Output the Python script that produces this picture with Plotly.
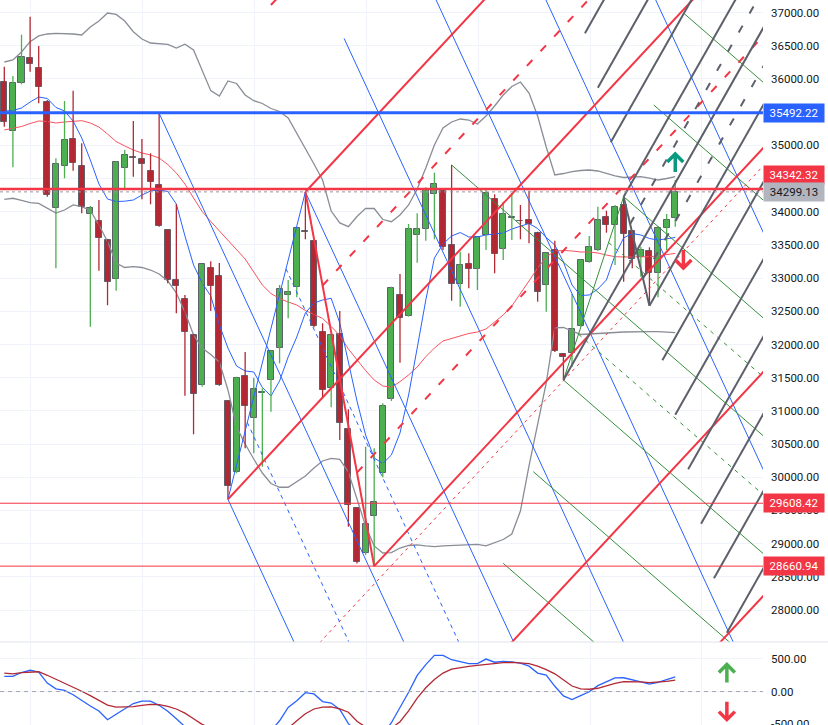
import plotly.graph_objects as go

# ---------------- data (weekly candles) ----------------
opens = [35950, 35212, 35935, 36316, 36161, 35649, 34052, 34689, 35091, 34685,
         33962, 33861, 33574, 32982, 34655, 34829, 34790, 34609, 34398, 33720,
         32972, 32681, 32143, 31385, 33148, 33027, 31149, 30075, 31521, 30888,
         31265, 31461, 31943, 32741, 32862, 33710, 33564, 32184, 31340, 32154,
         30723, 29532, 28854, 29416, 30060, 31175, 32741, 32434, 33645, 33745,
         34263, 34317, 33504, 32907, 33208, 33133, 33645, 34197, 33434, 33906,
         33865, 33871, 33684, 32892, 33424, 31852, 31867, 32279, 33243, 33424,
         33916, 33796, 34097, 33705, 33314, 33404, 33082, 33760, 33901]
highs = [36185, 36045, 36667, 36938, 36497, 35683, 34805, 35668, 35824, 35031,
         34087, 34177, 33590, 34760, 34930, 35367, 35096, 34880, 35483, 33725,
         34117, 32746, 32160, 33213, 33253, 33228, 31160, 31515, 31887, 31500,
         31340, 31910, 32896, 32972, 33760, 34297, 33575, 32319, 32150, 32505,
         31024, 29545, 30460, 30436, 31114, 32871, 33062, 33815, 33977, 34368,
         34588, 34328, 34704, 33398, 33374, 33625, 34328, 34263, 34151, 34278,
         34102, 34317, 33699, 33383, 33564, 31872, 32761, 33284, 33635, 34076,
         34016, 34102, 34227, 33725, 33474, 33464, 33785, 33966, 34478]
lows = [35281, 34670, 35920, 36110, 35634, 34227, 33148, 34504, 34618, 33977,
        32268, 33112, 32591, 32811, 34328, 34528, 34187, 34112, 33775, 32922,
        32470, 31229, 30647, 31364, 32505, 31379, 29668, 30060, 30436, 30361,
        30159, 30988, 31717, 32395, 32711, 33585, 32260, 31190, 31054, 30561,
        29255, 28700, 28830, 28661, 30000, 31150, 31726, 32420, 33232, 33564,
        33585, 33424, 32660, 32570, 32847, 32821, 33424, 33073, 33273, 33574,
        33585, 33525, 32645, 32494, 31887, 31465, 31666, 32270, 33230, 33410,
        33684, 33198, 32946, 33148, 33021, 32585, 32711, 33424, 33775]
closes = [35348, 35935, 36327, 36221, 35884, 34248, 34719, 35076, 34730, 34067,
          34052, 33600, 32937, 34745, 34850, 34814, 34715, 34444, 33790, 32972,
          32886, 32184, 31250, 33208, 32886, 31385, 29873, 31491, 31078, 31325,
          31285, 31902, 32832, 32786, 33751, 33695, 32279, 31315, 32143, 30822,
          29582, 28728, 29296, 29623, 31074, 32847, 32395, 33736, 33736, 34338,
          34413, 33464, 32907, 33193, 33133, 33615, 34287, 33364, 33962, 33921,
          33856, 33815, 32795, 33374, 31898, 31812, 32229, 33269, 33474, 33871,
          33796, 34076, 33665, 33284, 33424, 33082, 33751, 33871, 34299.13]

bb_upper = [36256, 36286, 36407, 36562, 36648, 36678, 36688, 36688, 36678, 36663,
            36783, 36874, 36994, 36972, 36874, 36712, 36602, 36542, 36532, 36520,
            36467, 36523, 36437, 36120, 35824, 35744, 35970, 35932, 35759, 35673,
            35631, 35555, 35510, 35412, 35182, 34968, 34719, 34478, 34011, 33831,
            33775, 33928, 34052, 34049, 33883, 33850, 33951, 34102, 34343, 34659,
            35006, 35262, 35352, 35397, 35382, 35322, 35442, 35593, 35759, 35887,
            35955, 35789, 35442, 34975, 34554, 34576, 34606, 34621, 34629, 34614,
            34576, 34539, 34516, 34523, 34528, 34508, 34478, 34501, 34528]
bb_basis = [35232, 35262, 35284, 35329, 35367, 35360, 35337, 35352, 35367, 35372,
            35337, 35277, 35171, 35058, 34991, 34930, 34885, 34855, 34810, 34712,
            34584, 34418, 34207, 34004, 33853, 33710, 33574, 33424, 33288, 33092,
            32896, 32768, 32693, 32640, 32595, 32512, 32452, 32392, 32271, 32136,
            31932, 31767, 31608, 31465, 31375, 31355, 31440, 31541, 31661, 31816,
            31947, 32053, 32090, 32128, 32166, 32188, 32234, 32339, 32445, 32580,
            32761, 32957, 33153, 33318, 33409, 33416, 33409, 33394, 33394, 33379,
            33348, 33323, 33318, 33318, 33318, 33323, 33333, 33356, 33374]
bb_lower = [34185, 34203, 34170, 34136, 34127, 34056, 33981, 34026, 34102, 34076,
            34019, 33800, 33552, 33228, 33160, 33172, 33160, 33122, 33062, 32957,
            32776, 32490, 32143, 31947, 31849, 31736, 31315, 30757, 30501, 30275,
            30064, 29906, 29849, 29849, 29929, 30019, 30140, 30245, 30283, 30268,
            30079, 29688, 29266, 28965, 28859, 28864, 28934, 28972, 28980, 28965,
            28954, 28965, 28972, 28980, 28980, 28990, 28965, 29010, 29062, 29145,
            29492, 30170, 30772, 31420, 32249, 32256, 32203, 32151, 32158, 32169,
            32173, 32181, 32188, 32193, 32193, 32193, 32193, 32188, 32178]
fast_ma = [35518, 35525, 35563, 35653, 35729, 35706, 35571, 35518, 35367, 35111,
           34780, 34418, 34192, 34154, 34159, 34177, 34252, 34313, 34328, 34305,
           34117, 33635, 33198, 32927, 32731, 32294, 31947, 31676, 31601, 31586,
           31352, 31224, 31450, 31812, 32113, 32475, 32625, 32670, 32696, 32324,
           31736, 31149, 30637, 30290, 30207, 30335, 30667, 31239, 31947, 32670,
           33303, 33514, 33635, 33687, 33620, 33620, 33650, 33665, 33680, 33740,
           33785, 33823, 33748, 33612, 33499, 33243, 32896, 32738, 32746, 32836,
           32972, 33348, 33605, 33672, 33650, 33597, 33574, 33597, 33612]

macd_line = [230, 230, 290, 324, 297, 129, 42, 17, -48, -138,
             -220, -296, -430, -345, -258, -183, -146, -146, -210, -300,
             -416, -535, -620, -650, -700, -780, -850, -880, -870, -820,
             -720, -600, -445, -243, -141, -18, -36, -153, -175, -273,
             -490, -620, -720, -740, -650, -475, -243, -10, 245, 410,
             552, 552, 485, 459, 425, 425, 495, 447, 459, 452,
             432, 387, 282, 252, 80, -66, -123, -63, -3, 90,
             150, 207, 210, 173, 147, 113, 140, 180, 222]
signal_line = [281, 270, 287, 297, 302, 248, 189, 131, 75, 5,
               -63, -135, -208, -239, -240, -230, -212, -195, -198, -225,
               -266, -330, -416, -500, -560, -620, -690, -750, -790, -800,
               -780, -720, -640, -560, -445, -338, -266, -236, -233, -266,
               -315, -453, -540, -600, -620, -560, -460, -296, -100, 57,
               185, 282, 342, 368, 383, 398, 415, 432, 440, 444,
               440, 425, 387, 335, 270, 180, 84, 42, 35, 50,
               87, 125, 150, 150, 147, 135, 143, 155, 174]

price_ticks = list(range(28000, 37001, 500))
macd_ticks = [-500, 0, 500]
h_levels = [35492.22, 34342.32, 29608.42, 28660.94]
last_price = 34299.13

# pitchfork anchors (bar index, price) taken from the candles
red_fork = [(26, lows[26]), (35, highs[35]), (43, lows[43])]
blue_fork = [(18, highs[18]), (26, lows[26]), (35, highs[35])]
green_fork = [(52, highs[52]), (65, lows[65]), (72, highs[72])]
gray_fork = [(65, lows[65]), (72, highs[72]), (75, lows[75])]

red_levels = [0, 1, -1, 2, -2, -3, 0.5, -0.5, -1.08]
blue_levels = [0, 1, -1, -2, -3, -4, -5, -6, 0.5, -0.5]
green_levels = [0, 1, -1, 2, 3, -2, -3, 0.5, -0.5]
gray_levels = [0, 1, 2, 3, 4, -1, -2, -3, -4, -5, -6, -7, 0.5, -0.5]

# arrows (bar index, value, up?)
main_arrows = [(78, 34734, True), (78.95, 33288, False)]
macd_arrows = [(84, 275, True), (84, -291, False)]

# ---------------- figure ----------------
n = len(closes)
idx = list(range(n))
GREEN, RED = '#4caf50', '#b22833'
fig = go.Figure()

# indicators
fig.add_trace(go.Scatter(x=idx, y=bb_upper, mode='lines', line=dict(color='#8a8d96', width=1.3), hoverinfo='skip'))
fig.add_trace(go.Scatter(x=idx, y=bb_lower, mode='lines', line=dict(color='#8a8d96', width=1.3), hoverinfo='skip'))
fig.add_trace(go.Scatter(x=idx, y=bb_basis, mode='lines', line=dict(color='#f7525f', width=1), hoverinfo='skip'))
fig.add_trace(go.Scatter(x=idx, y=fast_ma, mode='lines', line=dict(color='#2962ff', width=1), hoverinfo='skip'))

# wicks
for col, cond in ((GREEN, True), (RED, False)):
    wx, wy = [], []
    for i in idx:
        if (closes[i] >= opens[i]) == cond:
            wx += [i, i, None]
            wy += [lows[i], highs[i], None]
    fig.add_trace(go.Scatter(x=wx, y=wy, mode='lines', line=dict(color=col, width=1.3), hoverinfo='skip'))

# bodies
fig.add_trace(go.Bar(x=idx, base=[min(o, c) for o, c in zip(opens, closes)],
                     y=[abs(c - o) for o, c in zip(opens, closes)], width=0.7,
                     marker=dict(color=[GREEN if c >= o else RED for o, c in zip(opens, closes)],
                                 line=dict(color='#5d606b', width=1)), hoverinfo='skip'))

# MACD
fig.add_trace(go.Scatter(x=idx, y=macd_line, xaxis='x2', yaxis='y2', mode='lines',
                         line=dict(color='#2962ff', width=1.3), hoverinfo='skip'))
fig.add_trace(go.Scatter(x=idx, y=signal_line, xaxis='x2', yaxis='y2', mode='lines',
                         line=dict(color='#b22833', width=1.3), hoverinfo='skip'))

shapes = []


def fork(points, levels, color, width, dash_main, dash_half, x_end=96):
    (x1, y1), (x2, y2), (x3, y3) = points
    mx, my = (x2 + x3) / 2, (y2 + y3) / 2
    m = (my - y1) / (mx - x1)
    d = y2 - (y1 + m * (x2 - x1))
    h = (y3 - y2) / (x3 - x2)
    # handle
    shapes.append(dict(type='line', xref='x', yref='y', x0=x2, y0=y2, x1=x3, y1=y3,
                       line=dict(color=color, width=width)))
    for k in levels:
        if k == 0:
            xs = x1
        else:
            xs = (y2 - h * x2 - y1 + m * x1 - k * d) / (m - h)
        w, dash = width, dash_main
        if abs(k) == 0.5:
            dash = dash_half
        if abs(k) == 1.08:
            xs, w, dash = x2, 1, '3px,4px'
        f = lambda x: y1 + m * (x - x1) + k * d
        shapes.append(dict(type='line', xref='x', yref='y', x0=xs, y0=f(xs), x1=x_end, y1=f(x_end),
                           line=dict(color=color, width=w, dash=dash)))


fork(blue_fork, blue_levels, '#2962ff', 1, 'solid', '4px,4px')
fork(green_fork, green_levels, '#388e3c', 1, 'solid', '4px,5px')
fork(red_fork, red_levels, '#f23645', 2, 'solid', '8px,12px')
fork(gray_fork, gray_levels, '#5d606b', 2, 'solid', '8px,14px')

# horizontal levels
hl_style = {35492.22: ('#2962ff', 3), 34342.32: ('#f23645', 2.5), 29608.42: ('#f23645', 1), 28660.94: ('#f23645', 1)}
for v in h_levels:
    c, w = hl_style[v]
    shapes.append(dict(type='line', xref='x domain', yref='y', x0=0, x1=1, y0=v, y1=v, line=dict(color=c, width=w)))
shapes.append(dict(type='line', xref='x domain', yref='y', x0=0, x1=1, y0=last_price, y1=last_price,
                   line=dict(color='#9598a1', width=1, dash='dot')))
shapes.append(dict(type='line', xref='x2 domain', yref='y2', x0=0, x1=1, y0=0, y1=0,
                   line=dict(color='#a3a6af', width=1, dash='4px,4px')))
# pane separator
shapes.append(dict(type='line', xref='paper', yref='paper', x0=0, x1=1, y0=83 / 725, y1=83 / 725,
                   line=dict(color='#e0e3eb', width=1)))


def arrow(xa, ya, xref, yref, color, up):
    p = "M 0,-9 L 0,9 M -8,1 L 0,9 L 8,1" if up else "M 0,9 L 0,-9 M -8,-1 L 0,-9 L 8,-1"
    shapes.append(dict(type='path', xref=xref, yref=yref, xsizemode='pixel', ysizemode='pixel',
                       xanchor=xa, yanchor=ya, path=p, line=dict(color=color, width=3.5)))


for xa, ya, up in main_arrows:
    arrow(xa, ya, 'x', 'y', '#089981' if up else '#f23645', up)
for xa, ya, up in macd_arrows:
    arrow(xa, ya, 'x2', 'y2', '#4caf50' if up else '#f23645', up)

# price labels
ann = []
label_style = [(35492.22, '#2962ff', 'white', 0), (34342.32, '#f23645', 'white', 14),
               (last_price, '#b2b5be', '#131722', 0), (29608.42, '#f23645', 'white', 0),
               (28660.94, '#f23645', 'white', 0)]
for v, bg, fc, ys in label_style:
    ann.append(dict(xref='x domain', yref='y', x=1, y=v, xanchor='left', yanchor='middle', yshift=ys,
                    text=f"{v:.2f}", showarrow=False, bgcolor=bg, borderpad=2, width=56, align='center',
                    font=dict(color=fc, size=11.5, family='Roboto')))

axis_font = dict(color='#131722', size=11.5, family='Roboto')
fig.update_layout(
    width=828, height=725, margin=dict(l=0, r=0, t=0, b=0, autoexpand=False),
    paper_bgcolor='white', plot_bgcolor='white', showlegend=False, hovermode=False,
    xaxis=dict(domain=[0, 763 / 828], range=[-0.5, 88.2], tick0=3.1, dtick=13, showticklabels=False,
               showgrid=True, gridcolor='#f0f3fa', zeroline=False, anchor='y', fixedrange=True,
               automargin=False),
    xaxis2=dict(domain=[0, 763 / 828], range=[-0.5, 88.2], tick0=3.1, dtick=13, showticklabels=False,
                showgrid=True, gridcolor='#f0f3fa', zeroline=False, anchor='y2', matches='x',
                automargin=False),
    yaxis=dict(domain=[83 / 725, 1], range=[27518, 37190], side='right', anchor='x',
               tickvals=price_ticks, ticktext=[f"{v:.2f}" for v in price_ticks],
               showgrid=True, gridcolor='#f0f3fa', zeroline=False, ticks='', ticklabelstandoff=7,
               tickfont=axis_font, automargin=False),
    yaxis2=dict(domain=[0, 82 / 725], range=[-510, 740], side='right', anchor='x2',
                tickvals=macd_ticks, ticktext=[f"{v:.2f}" for v in macd_ticks],
                showgrid=True, gridcolor='#f0f3fa', zeroline=False, ticks='', ticklabelstandoff=7,
                ticklabeloverflow='allow', tickfont=axis_font, automargin=False),
    shapes=shapes, annotations=ann, bargap=0,
)

fig.write_html("out.html", config={'displayModeBar': False},
               post_script="document.body.style.margin='0';document.body.style.overflow='hidden';")
